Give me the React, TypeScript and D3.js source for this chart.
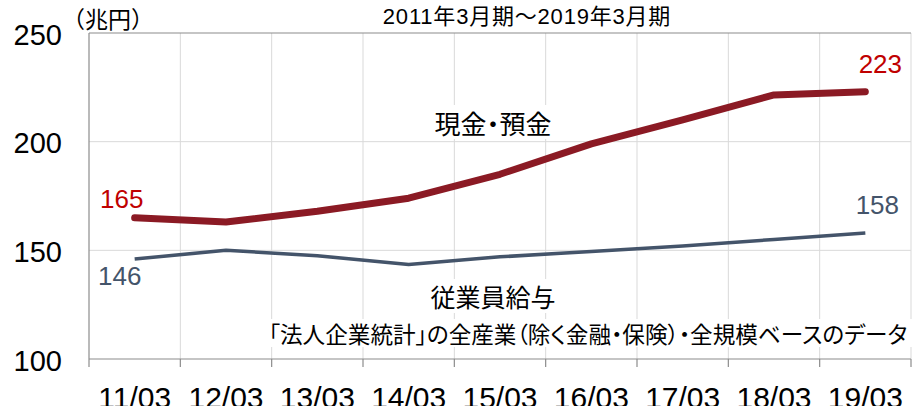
import { useRef, useEffect } from 'react'
import * as d3 from 'd3'

const categories = ['11/03', '12/03', '13/03', '14/03', '15/03', '16/03', '17/03', '18/03', '19/03']
const cashDeposits = [165, 163, 168, 174, 185, 199, 210, 221.5, 223]
const employeePay = [146, 150, 147.5, 143.5, 147, 149.5, 152, 155, 158]
const yTicks = [100, 150, 200, 250]

const latin = '"Liberation Sans", Arial, sans-serif'
const jp = '"Noto Sans CJK JP", "Liberation Sans", sans-serif'
const mixed = '"Liberation Sans", "Noto Sans CJK JP", sans-serif'

const App = () => {
  const svgRef = useRef<SVGSVGElement>(null)

  useEffect(() => {
    const svg = d3.select(svgRef.current)
    svg.selectAll('*').remove()

    const left = 89, right = 911, top = 33, bottom = 359
    const x = d3.scaleBand().domain(categories).range([left, right])
    const y = d3.scaleLinear().domain([100, 250]).range([bottom, top])
    const cx = (d: string) => (x(d) as number) + x.bandwidth() / 2

    // grid
    const bounds = categories.map(c => x(c) as number).concat([right])
    svg.append('g').selectAll('line').data(bounds.slice(1)).join('line')
      .attr('x1', d => d).attr('x2', d => d).attr('y1', top).attr('y2', bottom)
      .attr('stroke', '#d9d9d9').attr('stroke-width', 1)
    svg.append('g').selectAll('line').data([150, 200]).join('line')
      .attr('x1', left).attr('x2', right).attr('y1', d => y(d)).attr('y2', d => y(d))
      .attr('stroke', '#d9d9d9').attr('stroke-width', 1)

    // frame
    svg.append('line').attr('x1', left).attr('x2', right).attr('y1', top).attr('y2', top)
      .attr('stroke', '#8c8c8c').attr('stroke-width', 1.2)
    svg.append('line').attr('x1', left).attr('x2', left).attr('y1', top).attr('y2', bottom)
      .attr('stroke', '#8c8c8c').attr('stroke-width', 1.2)
    svg.append('line').attr('x1', left).attr('x2', right).attr('y1', bottom).attr('y2', bottom)
      .attr('stroke', '#8c8c8c').attr('stroke-width', 1.2)
    svg.append('g').selectAll('line').data(bounds).join('line')
      .attr('x1', d => d).attr('x2', d => d).attr('y1', bottom).attr('y2', bottom + 8)
      .attr('stroke', '#8c8c8c').attr('stroke-width', 1.2)

    // y labels
    svg.append('g').selectAll('text').data(yTicks).join('text')
      .attr('x', 62).attr('y', d => y(d) + 4)
      .attr('text-anchor', 'end').attr('dominant-baseline', 'middle')
      .attr('font-family', latin).attr('font-size', 29).attr('fill', '#000')
      .text(d => d)
    svg.append('text').attr('x', 62).attr('y', 28)
      .attr('font-family', jp).attr('font-size', 23).text('（兆円）')

    // x labels (partly clipped at the bottom edge, as in the source)
    svg.append('g').selectAll('text').data(categories).join('text')
      .attr('x', d => cx(d)).attr('y', 408)
      .attr('text-anchor', 'middle')
      .attr('font-family', latin).attr('font-size', 30).attr('fill', '#000')
      .text(d => d)

    // title
    svg.append('text').attr('x', 527).attr('y', 24).attr('text-anchor', 'middle')
      .attr('font-family', mixed).attr('font-size', 22).attr('letter-spacing', 0.8)
      .text('2011年3月期～2019年3月期')

    // annotation boxes
    const note = (tx: number, ty: number, w: number, h: number, txt: string, size: number) => {
      svg.append('rect').attr('x', tx - w / 2).attr('y', ty - h / 2).attr('width', w).attr('height', h).attr('fill', '#fff')
      svg.append('text').attr('x', tx).attr('y', ty).attr('text-anchor', 'middle')
        .attr('dominant-baseline', 'central')
        .style('font-feature-settings', '"palt"')
        .attr('font-family', jp).attr('font-size', size).attr('fill', '#000').text(txt)
    }
    note(493, 122, 140, 34, '現金・預金', 26)
    note(493, 296, 140, 34, '従業員給与', 25)
    note(588, 333, 654, 28, '「法人企業統計」の全産業（除く金融・保険）・全規模ベースのデータ', 22.6)

    // lines
    const lineGen = d3.line<number>().x((_, i) => cx(categories[i])).y(d => y(d))
    svg.append('path').datum(employeePay).attr('d', lineGen)
      .attr('fill', 'none').attr('stroke', '#44546a').attr('stroke-width', 3.5)
      .attr('stroke-linejoin', 'round')
    svg.append('path').datum(cashDeposits).attr('d', lineGen)
      .attr('fill', 'none').attr('stroke', '#8b1a24').attr('stroke-width', 7)
      .attr('stroke-linejoin', 'round').attr('stroke-linecap', 'round')

    // data labels
    const n = categories.length - 1
    const lbl = (lx: number, ly: number, v: number, color: string) => {
      svg.append('text').attr('x', lx).attr('y', ly).attr('text-anchor', 'middle')
        .attr('dominant-baseline', 'central')
        .attr('font-family', latin).attr('font-size', 26).attr('fill', color).text(v)
    }
    lbl(cx(categories[0]) - 13, y(cashDeposits[0]) - 19, cashDeposits[0], '#c00000')
    lbl(cx(categories[n]) + 15, y(cashDeposits[n]) - 28, cashDeposits[n], '#c00000')
    lbl(cx(categories[0]) - 15, y(employeePay[0]) + 17, employeePay[0], '#44546a')
    lbl(cx(categories[n]) + 12, y(employeePay[n]) - 28, employeePay[n], '#44546a')
  }, [])

  return (
    <svg
      ref={svgRef}
      width={913} height={406}
      style={{ position: 'absolute', left: 0, top: 0, background: '#fff' }}
    />
  )
}

export default App
